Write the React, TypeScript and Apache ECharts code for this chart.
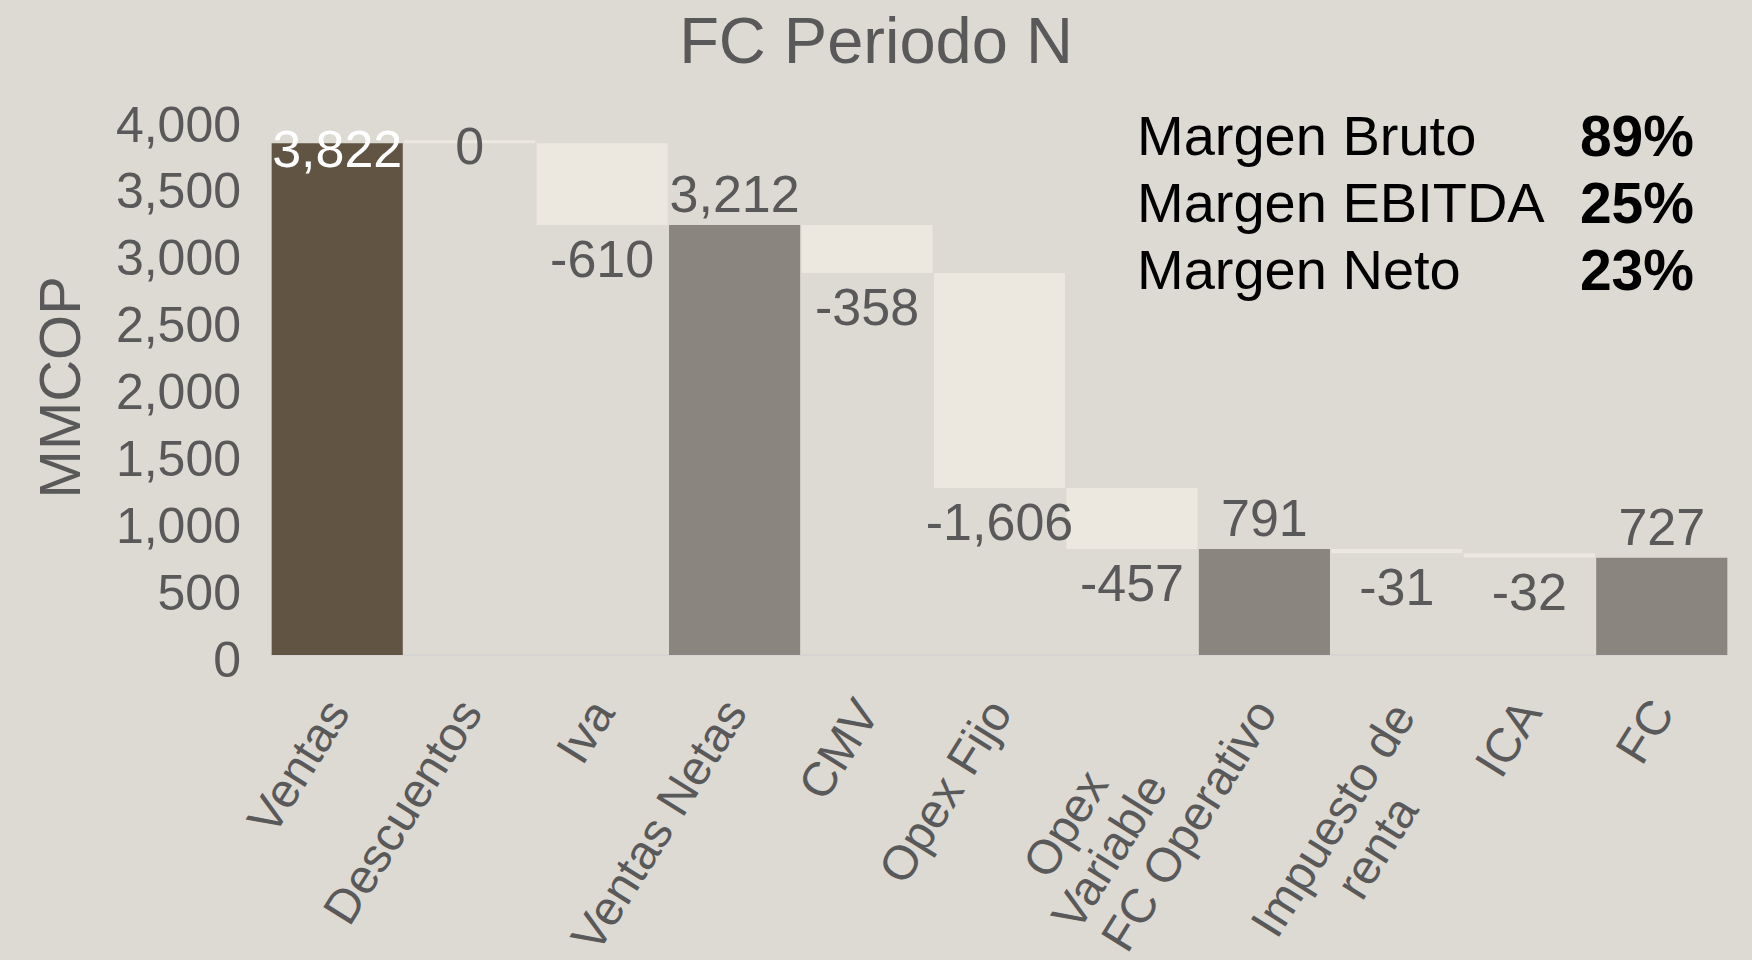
import React, { useEffect, useRef } from "react";
import * as echarts from "echarts";

const categories = [
  "Ventas",
  "Descuentos",
  "Iva",
  "Ventas Netas",
  "CMV",
  "Opex Fijo",
  "Opex Variable",
  "FC Operativo",
  "Impuesto de renta",
  "ICA",
  "FC",
];
const categoryLabels = [
  "Ventas",
  "Descuentos",
  "Iva",
  "Ventas Netas",
  "CMV",
  "Opex Fijo",
  "Opex\nVariable",
  "FC Operativo",
  "Impuesto de\nrenta",
  "ICA",
  "FC",
];
const amounts = [3822, 0, -610, 3212, -358, -1606, -457, 791, -31, -32, 727];
const isTotal = [true, false, false, true, false, false, false, true, false, false, true];
const yTicks = [0, 500, 1000, 1500, 2000, 2500, 3000, 3500, 4000];
const marginLabels = ["Margen Bruto", "Margen EBITDA", "Margen Neto"];
const marginValues = ["89%", "25%", "23%"];

const FONT = "'Liberation Sans', Arial, Helvetica, sans-serif";
const GREY_TEXT = "#595959";
const C_FIRST = "#615443";
const C_TOTAL = "#8a857e";
const C_DELTA = "#ece8df";
const BG = "#ddd9d3";

function fmt(v: number) {
  return v.toLocaleString("en-US");
}

export default function App() {
  const ref = useRef<HTMLDivElement>(null);
  useEffect(() => {
    document.body.style.margin = "0";
    if (!ref.current) return;
    const chart = echarts.init(ref.current, undefined, { renderer: "svg" });

    const bases: number[] = [];
    const heights: number[] = [];
    let running = 0;
    amounts.forEach((a, i) => {
      if (isTotal[i]) {
        bases.push(0);
        heights.push(a);
        running = a;
      } else if (a < 0) {
        bases.push(running + a);
        heights.push(-a);
        running += a;
      } else {
        bases.push(running);
        heights.push(a);
        running += a;
      }
    });

    const visibleData = heights.map((h, i) => {
      let color = C_DELTA;
      if (isTotal[i]) color = i === 0 ? C_FIRST : C_TOTAL;
      let label: any;
      if (i === 0) {
        label = { position: "insideTop", distance: -20, color: "#ffffff" };
      } else if (amounts[i] === 0) {
        label = { position: "insideTop", distance: -20, color: GREY_TEXT };
      } else if (isTotal[i]) {
        label = { position: "top", distance: 5, color: GREY_TEXT };
      } else {
        label = { position: "bottom", distance: 8, color: GREY_TEXT };
      }
      return { value: h, itemStyle: { color }, label };
    });

    const LABEL_FS = 48;

    const option: any = {
      animation: false,
      backgroundColor: BG,
      textStyle: { fontFamily: FONT },
      title: {
        text: "FC Periodo N",
        left: "center",
        top: 3,
        textStyle: { fontSize: 65, fontWeight: "normal", color: GREY_TEXT, fontFamily: FONT },
      },
      grid: {
        left: 271,
        right: 24,
        top: 119.5,
        bottom: 305,
        containLabel: false,
        outerBoundsMode: "none",
      },
      xAxis: {
        type: "category",
        data: categories,
        axisTick: { show: false },
        axisLine: { show: true, lineStyle: { color: "#d6d4d2", width: 2 } },
        axisLabel: {
          interval: 0,
          rotate: 58,
          margin: 49,
          color: GREY_TEXT,
          fontSize: LABEL_FS,
          fontFamily: FONT,
          formatter: (_v: string, idx: number) => {
            const lines = categoryLabels[idx].split("\n");
            if (lines.length === 1) return `{c|${lines[0]}}`;
            const wide = categoryLabels[idx].startsWith("Opex");
            const st = wide ? "w" : "c";
            return `{e| }\n` + lines.map((l) => `{${st}|${l}}`).join("\n");
          },
          rich: {
            c: { align: "center", fontSize: LABEL_FS, color: GREY_TEXT, fontFamily: FONT, lineHeight: 52 },
            w: {
              align: "center",
              width: 274,
              fontSize: LABEL_FS,
              color: GREY_TEXT,
              fontFamily: FONT,
              lineHeight: 52,
            },
            e: { fontSize: 10, lineHeight: 66, color: "rgba(0,0,0,0)" },
          },
        },
      },
      yAxis: {
        type: "value",
        min: yTicks[0],
        max: yTicks[yTicks.length - 1],
        interval: yTicks[1] - yTicks[0],
        name: "MMCOP",
        nameLocation: "middle",
        nameRotate: 90,
        nameGap: 183,
        nameTextStyle: { fontSize: 58, color: GREY_TEXT, fontFamily: FONT },
        axisLine: { show: false },
        axisTick: { show: false },
        splitLine: { show: false },
        axisLabel: {
          margin: 30,
          fontSize: 50,
          color: GREY_TEXT,
          fontFamily: FONT,
          formatter: (v: number) => `{y|${fmt(v)}}`,
          rich: {
            y: { fontSize: 50, color: GREY_TEXT, fontFamily: FONT, padding: [10, 0, 0, 0] },
          },
        },
      },
      graphic: [
        ...marginLabels.map((t, i) => ({
          type: "text",
          x: 1137,
          y: 135 + i * 67,
          style: {
            text: t,
            fill: "#000000",
            fontSize: 56,
            fontFamily: FONT,
            align: "left",
            textAlign: "left",
            verticalAlign: "middle",
            textVerticalAlign: "middle",
          },
        })),
        ...marginValues.map((t, i) => ({
          type: "text",
          x: 1694,
          y: 136 + i * 67,
          style: {
            text: t,
            fill: "#000000",
            fontSize: 57,
            fontWeight: "bold",
            fontFamily: FONT,
            align: "right",
            textAlign: "right",
            verticalAlign: "middle",
            textVerticalAlign: "middle",
          },
        })),
      ],
      series: [
        {
          name: "base",
          type: "bar",
          stack: "wf",
          data: bases,
          itemStyle: { color: "transparent" },
          emphasis: { disabled: true },
          silent: true,
          barCategoryGap: "1%",
        },
        {
          name: "value",
          type: "bar",
          stack: "wf",
          data: visibleData,
          barCategoryGap: "1%",
          barMinHeight: 3,
          label: {
            show: true,
            fontSize: 52,
            fontFamily: FONT,
            color: GREY_TEXT,
            formatter: (p: any) => fmt(amounts[p.dataIndex]),
          },
        },
      ],
    };
    chart.setOption(option);
    return () => chart.dispose();
  }, []);
  return <div ref={ref} style={{ width: 1752, height: 960 }} />;
}
